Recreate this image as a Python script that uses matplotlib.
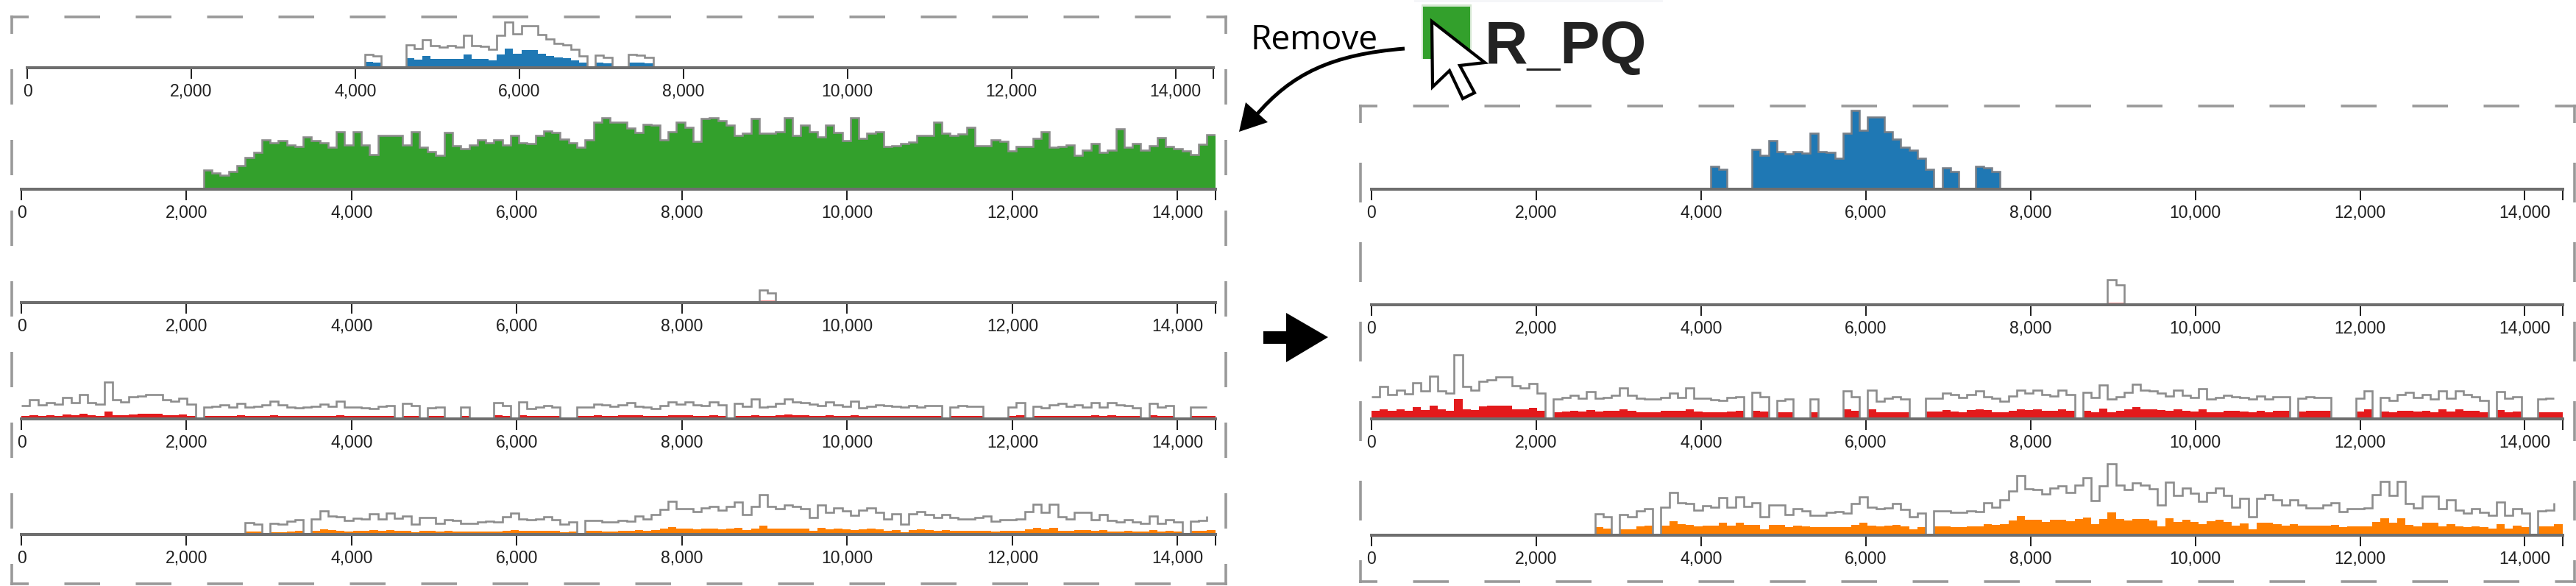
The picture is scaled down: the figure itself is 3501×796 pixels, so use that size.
import numpy as np
import matplotlib
matplotlib.use("Agg")
import matplotlib.pyplot as plt
from matplotlib.path import Path
from matplotlib.patches import PathPatch, Polygon, Rectangle

W, H = 3501, 796
DPI = 100
BIN = 100.4
DOMAIN = 14460
TICKS = list(range(0, 14001, 2000))

BLUE, GREEN, RED, ORANGE, PINK = "#1f78b4", "#33a02c", "#e31a1c", "#ff7f00", "#fb9a99"

blue_total = [0]*41 + [94, 82] + [0]*3 + [162, 137, 197, 154, 144, 154, 146, 229, 154, 150, 127, 229, 320, 240,
              294, 294, 234, 204, 170, 159, 127, 82] + [0] + [87, 72] + [0]*2 + [92, 87, 72] + [0]*68

green_total = [0]*22 + [77, 65, 57, 72, 95, 128, 150, 200, 190, 198, 180, 175, 212, 198, 190, 170, 234, 180, 234, 180,
               140, 218, 218, 218, 180, 234, 172, 152, 138, 232, 178, 165, 180, 200, 190, 200, 180, 218, 190, 185,
               218, 237, 232, 205, 188, 170, 200, 272, 292, 273, 273, 248, 230, 265, 262, 200,
               235, 272, 252, 195, 288, 292, 280, 260, 220, 227, 288, 227, 227, 233, 292, 220, 260, 233, 213, 260, 230, 198,
               292, 208, 227, 233, 173, 178, 185, 192, 218, 218, 272, 227, 218, 225, 252, 178, 178, 200, 195, 155, 175, 175,
               208, 235, 170, 175, 180, 138, 160, 185, 150, 160, 245, 172, 185, 160, 178, 210, 175, 165, 157, 142, 183, 222]

pink_total = [0]*89 + [102, 81] + [0]*53
pink_part = [0]*89 + [9, 9] + [0]*53

red_total = [91, 133, 100, 116, 103, 148, 113, 173, 113, 105, 260, 133, 118, 153, 160, 171, 171, 136, 126, 143, 106, 0,
             81, 88, 96, 85, 110, 83, 88, 96, 125, 96, 85, 80, 81, 88, 106, 88, 125, 85, 85, 78, 75, 88, 91, 0,
             108, 91, 0, 76, 81, 0, 0, 81, 0, 0, 0, 113, 91, 0, 118, 71, 85, 91, 81, 0, 0, 85, 85, 106,
             98, 86, 98, 113, 90, 83, 73, 93, 118, 106, 118, 98, 93, 118, 98, 0, 108, 86, 138, 81, 90, 108, 140, 118, 115, 106,
             93, 118, 96, 86, 123, 80, 86, 96, 91, 86, 81, 93, 81, 91, 91, 0, 83, 91, 88, 88, 0, 0, 0, 83, 115, 0,
             88, 76, 100, 108, 86, 98, 81, 113, 83, 113, 100, 91, 76, 0, 111, 83, 91, 0, 0, 81, 83]
red_part = [33, 40, 33, 38, 33, 48, 36, 55, 38, 33, 81, 40, 36, 50, 53, 55, 55, 40, 40, 46, 33, 0,
            28, 31, 33, 31, 36, 31, 32, 33, 40, 33, 28, 28, 28, 32, 33, 32, 40, 30, 28, 28, 28, 30, 32, 0,
            34, 31, 0, 28, 28, 0, 0, 28, 0, 0, 0, 38, 32, 0, 40, 28, 28, 28, 28, 0, 0, 30, 30, 36,
            30, 28, 36, 40, 36, 28, 28, 33, 40, 36, 40, 33, 33, 40, 33, 0, 34, 28, 43, 28, 32, 38, 48, 40, 40, 35,
            32, 40, 33, 30, 40, 28, 28, 32, 32, 30, 28, 32, 28, 32, 32, 0, 30, 34, 32, 32, 0, 0, 0, 30, 40, 0,
            30, 28, 34, 34, 30, 32, 28, 38, 30, 38, 34, 32, 28, 0, 36, 28, 30, 0, 0, 28, 28, 28]

orange_total = [0]*27 + [88, 75, 0, 83, 75, 98, 107, 0, 115, 173, 133, 128, 103, 120, 113, 152, 115, 155, 118, 133,
                75, 122, 122, 83, 107, 100, 82, 82, 92, 95, 90, 130, 155, 115, 107, 110, 128, 105, 75, 90, 0, 100, 100,
                93, 92, 100, 97, 132, 115, 143, 180, 242, 188, 185, 167, 192, 202, 175, 203, 235, 142, 202, 290,
                203, 185, 212, 205, 190, 122, 215, 163, 193, 170, 137, 175, 193, 162, 115, 150, 75, 150, 165, 143,
                122, 143, 122, 112, 112, 122, 132, 97, 108, 108, 110, 165, 220, 163, 220, 130, 110, 160, 160, 108,
                143, 103, 90, 108, 92, 82, 135, 82, 108, 90, 0, 98, 103]
orange_tail = 132
orange_part = [0]*27 + [32, 28, 0, 25, 25, 35, 38, 0, 40, 58, 45, 43, 35, 40, 40, 50, 40, 50, 43, 43,
               25, 42, 42, 33, 38, 35, 32, 32, 32, 32, 32, 43, 50, 38, 37, 38, 43, 37, 25, 32, 0, 37, 37,
               32, 32, 37, 37, 45, 42, 45, 60, 77, 62, 62, 55, 63, 63, 58, 65, 73, 45, 65, 92,
               65, 60, 67, 65, 60, 37, 68, 53, 63, 55, 45, 57, 63, 53, 40, 47, 23, 50, 52, 45,
               40, 45, 40, 38, 38, 40, 43, 34, 37, 37, 37, 53, 70, 52, 70, 42, 37, 50, 50, 37,
               45, 35, 32, 37, 32, 28, 45, 28, 38, 32, 0, 37, 37, 44]

legend_label = "R_PQ"
action_label = "Remove"

plt.rcParams["lines.scale_dashes"] = False
fig = plt.figure(figsize=(W / DPI, H / DPI), dpi=DPI, facecolor="white")
PX = 72.0 / DPI
AX_H = 110
edges = np.arange(145) * BIN


def panel(x0, x1, base):
    ax = fig.add_axes([x0 / W, 1 - base / H, (x1 - x0) / W, AX_H / H])
    ax.set_xlim(0, DOMAIN)
    ax.set_ylim(0, AX_H * 3)
    ax.patch.set_visible(False)
    for s in ("top", "left", "right"):
        ax.spines[s].set_visible(False)
    ax.spines["bottom"].set_linewidth(4 * PX)
    ax.spines["bottom"].set_color("#6e6e6e")
    ax.spines["bottom"].set_zorder(5)
    ax.set_yticks([])
    ax.set_xticks(TICKS + [DOMAIN])
    ax.set_xticklabels([f"{t:,}" for t in TICKS] + [""], fontfamily="Liberation Sans",
                       fontsize=23 * PX, color="#202020")
    ax.tick_params(axis="x", length=15 * PX, width=2 * PX, color="#222222", pad=6 * PX)
    return ax


def fill(ax, values, color, scale=1.0):
    v = np.asarray(values, float) * scale
    ax.bar(edges[:len(v)], v, width=BIN, align="edge", color=color, linewidth=0, zorder=2)


def outline(ax, values, scale=1.0, color="#8c8c8c", tail=None):
    v = np.asarray(values, float) * scale
    first = max(int(np.argmax(v > 0)) - 1, 0)
    last = len(v) - 1 if v[-1] > 0 else len(v) - 1 - int(np.argmax(v[::-1] > 0)) + 1
    vv = v[first:last + 1]
    ee = edges[first:last + 2]
    xs = np.repeat(ee, 2)[1:-1]
    ys = np.repeat(vv, 2)
    if tail is not None:
        xs = np.append(xs, xs[-1])
        ys = np.append(ys, tail * scale)
    ax.plot(xs, ys, color=color, lw=2.6 * PX, solid_joinstyle="miter", solid_capstyle="butt", zorder=3)


# left column
LO, LF = 0.58, 0.38
a = panel(37, 1649, 92)
fill(a, blue_total, BLUE, 0.24)
outline(a, blue_total, LO)

a = panel(29, 1652, 257)
fill(a, green_total, GREEN)
outline(a, green_total)

a = panel(29, 1652, 411)
fill(a, pink_part, PINK)
outline(a, pink_total, 0.5)

a = panel(29, 1652, 569)
fill(a, red_part, RED, LF)
outline(a, red_total, LO)

a = panel(29, 1652, 726)
fill(a, orange_part, ORANGE, LF)
outline(a, orange_total, 0.56, tail=orange_tail)

# right column
a = panel(1864, 3483, 257)
fill(a, blue_total, BLUE)
outline(a, blue_total, color="#777f88")

a = panel(1864, 3483, 414)
fill(a, pink_part, PINK)
outline(a, pink_total)

a = panel(1864, 3483, 569)
fill(a, red_part, RED)
outline(a, red_total)

a = panel(1864, 3483, 727)
fill(a, orange_part, ORANGE)
outline(a, orange_total, tail=orange_tail)

# annotation layer in pixel coordinates
ov = fig.add_axes([0, 0, 1, 1], zorder=20)
ov.set_xlim(0, W)
ov.set_ylim(H, 0)
ov.axis("off")


def frame(x0, y0, x1, y1, hperiod, vperiod):
    lw = 3.6 * PX
    hon = hperiod / 2
    von = vperiod / 2
    style = dict(color="#999999", lw=lw, dash_capstyle="butt", solid_capstyle="butt")
    for y in (y0, y1):
        ov.plot([x0 - 1.8, x1 + 1.8], [y, y],
                linestyle=((hon - 25) * PX, (hon * PX, hon * PX)), **style)
    for x in (x0, x1):
        ov.plot([x, x], [y0 - 1.8, y1 + 1.8],
                linestyle=((von - 25) * PX, (von * PX, von * PX)), **style)


frame(15.5, 23, 1666, 793, 97, 96)
frame(1848.5, 144, 3499, 790, 97, 108)

ov.add_patch(Rectangle((1922, 0), 338, 3, color="#f5f6f8", lw=0))
ov.add_patch(Rectangle((1932, 6), 68, 74, color="#d5e8d2", lw=0))
ov.add_patch(Rectangle((1934, 9), 64, 71, color=GREEN, lw=0))
ov.text(2018, 86, legend_label, fontfamily="Liberation Sans", fontweight="bold", fontsize=81 * PX,
        color="#222222", ha="left", va="baseline")
ov.text(1700, 67, action_label, fontfamily="Open Sans", fontsize=46 * PX, color="black",
        ha="left", va="baseline")

# cursor
ov.add_patch(Polygon([(1946, 29), (2018, 85), (1984, 89), (2004, 126), (1988, 134), (1970, 96), (1947, 118)],
                     closed=True, facecolor="white", edgecolor="black", lw=4.2 * PX, joinstyle="miter", zorder=6))

# curved arrow
curve = Path([(1909, 66), (1810, 74), (1755, 100), (1706, 158)], [Path.MOVETO, Path.CURVE4, Path.CURVE4, Path.CURVE4])
ov.add_patch(PathPatch(curve, facecolor="none", edgecolor="black", lw=5 * PX))
ov.add_patch(Polygon([(1684, 179), (1693, 139), (1723, 166)], closed=True, color="black", lw=0))

# big arrow
ov.add_patch(Polygon([(1717, 450), (1748, 450), (1748, 425), (1805, 458), (1748, 492), (1748, 467), (1717, 467)],
                     closed=True, color="black", lw=0))

fig.savefig("out.png", dpi=DPI, facecolor="white")
